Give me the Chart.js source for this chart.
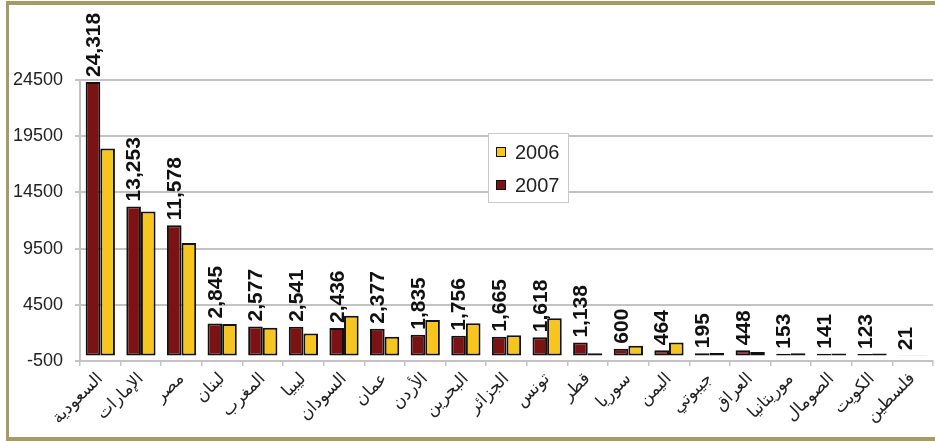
<!DOCTYPE html>
<html>
<head>
<meta charset="utf-8">
<script src="https://cdn.jsdelivr.net/npm/chart.js"></script>
<style>
  html, body { margin: 0; padding: 0; background: #fff; }
  #wrap { position: relative; width: 935px; height: 441px; overflow: hidden; }
  #frame { position: absolute; left: 6px; top: 1px; width: 960px; height: 440px; box-sizing: border-box;
           border-top: 4px solid #a79a64; border-left: 3px solid #a79a64; border-bottom: 4px solid #a79a64;
           pointer-events: none; }
</style>
</head>
<body>
<div id="wrap">
  <canvas id="myChart" width="935" height="441"></canvas>
  <div id="frame"></div>
</div>
<script>
// countries, largest first
const categories = ['السعودية', 'الإمارات', 'مصر', 'لبنان', 'المغرب', 'ليبيا', 'السودان', 'عمان', 'الأردن', 'البحرين',
  'الجزائر', 'تونس', 'قطر', 'سوريا', 'اليمن', 'جيبوتي', 'العراق', 'موريتانيا', 'الصومال', 'الكويت', 'فلسطين'];
const values2007 = [24318, 13253, 11578, 2845, 2577, 2541, 2436, 2377, 1835, 1756,
  1665, 1618, 1138, 600, 464, 195, 448, 153, 141, 123, 21];
const values2006 = [18400, 12800, 10000, 2800, 2450, 1950, 3530, 1650, 3150, 2850,
  1800, 3300, 200, 850, 1150, 220, 300, 180, 160, 160, 20];
const yMin = -500;
const yMax = 24500;
const yStep = 5000;

const red = '#7b1315';
const yellow = '#f6c51e';
const gridColor = '#c4c2c4';

// rotated value labels above the 2007 bars
const valueLabels = {
  id: 'valueLabels',
  afterDatasetsDraw(chart) {
    const ctx = chart.ctx;
    const meta = chart.getDatasetMeta(0);
    ctx.save();
    ctx.font = 'bold 21px "Liberation Sans", Arial, sans-serif';
    ctx.fillStyle = '#111';
    ctx.textAlign = 'left';
    ctx.textBaseline = 'middle';
    meta.data.forEach((bar, i) => {
      ctx.save();
      ctx.translate(bar.x, bar.y - 5);
      ctx.rotate(-Math.PI / 2);
      ctx.fillText(values2007[i].toLocaleString('en-US'), 0, 1);
      ctx.restore();
    });
    ctx.restore();
  }
};

// floating legend box
const boxLegend = {
  id: 'boxLegend',
  afterDraw(chart) {
    const ctx = chart.ctx;
    const x = chart.chartArea.left + 408;
    const y = 133;
    ctx.save();
    ctx.fillStyle = '#fff';
    ctx.fillRect(x, y, 80, 69);
    ctx.strokeStyle = '#c8c8c8';
    ctx.lineWidth = 1;
    ctx.strokeRect(x + 0.5, y + 0.5, 80, 69);
    const items = chart.data.datasets.slice().reverse();
    ctx.font = '20px "Liberation Sans", Arial, sans-serif';
    ctx.textBaseline = 'middle';
    items.forEach((ds, i) => {
      const cy = y + 19 + i * 33;
      ctx.fillStyle = ds.backgroundColor;
      ctx.fillRect(x + 8, cy - 5, 10, 10);
      ctx.strokeStyle = '#111';
      ctx.strokeRect(x + 8.5, cy - 4.5, 9, 9);
      ctx.fillStyle = '#222';
      ctx.fillText(ds.label, x + 27, cy + 1);
    });
    ctx.restore();
  }
};

new Chart(document.getElementById('myChart'), {
  type: 'bar',
  data: {
    labels: categories,
    datasets: [
      { label: '2007', data: values2007, backgroundColor: red, borderColor: '#111', borderWidth: 2, borderSkipped: false },
      { label: '2006', data: values2006, backgroundColor: yellow, borderColor: '#111', borderWidth: 2, borderSkipped: false }
    ]
  },
  options: {
    responsive: false,
    animation: false,
    layout: { padding: { top: 80, right: 2, left: 0, bottom: 0 } },
    datasets: { bar: { categoryPercentage: 0.72, barPercentage: 1.0 } },
    plugins: { legend: { display: false }, tooltip: { enabled: false } },
    scales: {
      x: {
        afterFit(scale) { scale.height = 80; },
        grid: { display: true, drawOnChartArea: false, color: gridColor, tickLength: 5, lineWidth: 1.5 },
        border: { display: true, color: gridColor, width: 2 },
        ticks: {
          autoSkip: false, minRotation: 45, maxRotation: 45, padding: 3, color: '#222',
          font: { family: '"DejaVu Sans", sans-serif', size: 17 }
        }
      },
      y: {
        min: yMin,
        max: yMax,
        afterFit(scale) { scale.width = 80; },
        grid: { color: gridColor, lineWidth: 2, tickLength: 5 },
        border: { display: true, color: gridColor, width: 2 },
        ticks: {
          stepSize: yStep, padding: 12, color: '#222',
          font: { family: '"Liberation Sans", Arial, sans-serif', size: 18 },
          callback: v => String(v)
        }
      }
    }
  },
  plugins: [valueLabels, boxLegend]
});
</script>
</body>
</html>
